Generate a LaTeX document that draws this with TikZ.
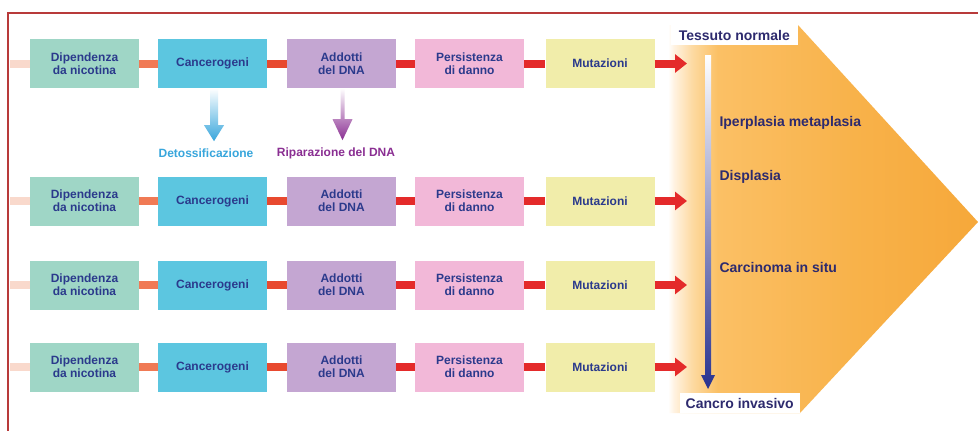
\documentclass[tikz,border=0pt]{standalone}
\usepackage{fontspec}
\setmainfont{Liberation Sans}
\usetikzlibrary{arrows.meta,calc}

% palette
\definecolor{framered}{HTML}{B83A3A}
\definecolor{boxtext}{HTML}{2B3A8C}
\definecolor{stagetext}{HTML}{2D2A6E}
\definecolor{mint}{HTML}{9FD6C6}
\definecolor{cyanbox}{HTML}{5CC6E0}
\definecolor{lavender}{HTML}{C4A6D2}
\definecolor{pinkbox}{HTML}{F2B8D8}
\definecolor{yellowbox}{HTML}{F1EDAA}
\definecolor{leadpale}{HTML}{F9D9CC}
\definecolor{linkorange}{HTML}{F07A55}
\definecolor{linkred}{HTML}{E8492F}
\definecolor{linkdeep}{HTML}{E42A2A}
\definecolor{detblue}{HTML}{38A6DC}
\definecolor{repurple}{HTML}{8A2E92}
\definecolor{navyarrow}{HTML}{28328F}
\definecolor{orpale}{HTML}{FFF2E0}
\definecolor{orsoft}{HTML}{FDD9A0}
\definecolor{orlight}{HTML}{FBC065}
\definecolor{ormid}{HTML}{F8B24A}
\definecolor{ordeep}{HTML}{F6A83A}

% fade of the tissue wedge, white on the left to orange on the right
\pgfdeclarehorizontalshading{tissuefade}{100bp}{%
  color(0bp)=(white); color(25bp)=(white); color(26bp)=(orpale);
  color(29bp)=(orsoft); color(33bp)=(orlight); color(55bp)=(ormid);
  color(75bp)=(ordeep); color(100bp)=(ordeep)}

\tikzset{
  stagebox/.style={minimum width=109pt, minimum height=49pt, inner sep=0pt,
    align=center, font=\fontsize{12}{13}\selectfont\bfseries, text=boxtext},
  link/.style={line width=8pt},
  stagelabel/.style={font=\fontsize{14}{16}\selectfont\bfseries, text=stagetext},
  sidelabel/.style={font=\fontsize{12}{14}\selectfont\bfseries},
}

\begin{document}
\begin{tikzpicture}[x=1pt,y=-1pt]
\useasboundingbox (0,0) rectangle (978,431);
\fill[white] (0,0) rectangle (978,431);

% frame
\draw[framered, line width=2.5pt] (8,431) -- (8,13) -- (978,13);

% tissue progression wedge
\shade[shading=tissuefade] (668,25) -- (798,25) -- (978,222) -- (800,413)
  -- (668,413) -- cycle;

% pathway rows
\foreach \r/\y in {1/63.5, 2/201, 3/285, 4/367}{
  \coordinate (lead\r) at (10,\y);
  \node[stagebox, fill=mint]      (a\r) at (84.5,\y)  {Dipendenza\\da nicotina};
  \node[stagebox, fill=cyanbox]   (b\r) at (212.5,\y) {Cancerogeni};
  \node[stagebox, fill=lavender]  (c\r) at (341.5,\y) {Addotti\\del DNA};
  \node[stagebox, fill=pinkbox]   (d\r) at (469.5,\y) {Persistenza\\di danno};
  \node[stagebox, fill=yellowbox] (e\r) at (600,\y)   {Mutazioni};
  \coordinate (tip\r) at (687,\y);
  \draw[link, leadpale]   (lead\r) -- (a\r.west);
  \draw[link, linkorange] (a\r.east) -- (b\r.west);
  \draw[link, linkred]    (b\r.east) -- (c\r.west);
  \draw[link, linkdeep]   (c\r.east) -- (d\r.west);
  \draw[link, linkdeep]   (d\r.east) -- (e\r.west);
  \draw[link, linkdeep, -{Triangle[width=18pt,length=12pt]}] (e\r.east) -- (tip\r);
}

% side outcomes of the first row
\node[sidelabel, text=detblue]  (detox) at (206,153) {Detossificazione};
\node[sidelabel, text=repurple] (repair) at (336,153) {Riparazione del DNA};
\shade[top color=white, bottom color=detblue]
  ($(b1.south)+(-2.5,0)$) -- ++(0,37) -- ++(-6,0) -- ++(10,16) -- ++(10,-16)
  -- ++(-6,0) -- ++(0,-37) -- cycle;
\shade[top color=white, bottom color=repurple]
  ($(c1.south)+(-1,0)$) -- ++(0,31) -- ++(-8,0) -- ++(10,21) -- ++(10,-21)
  -- ++(-8,0) -- ++(0,-31) -- cycle;

% tissue stages
\node[stagelabel, anchor=east, fill=white, inner xsep=8pt, minimum height=20pt]
  (normal) at (798,35) {Tessuto normale};
\node[stagelabel, anchor=east, fill=white, inner xsep=6pt, minimum height=20pt]
  (invasive) at (800,403) {Cancro invasivo};
\node[stagelabel, anchor=west] (hyper) at (716,123) {Iperplasia metaplasia};
\node[stagelabel, anchor=west] (dysp)  at (716,177) {Displasia};
\node[stagelabel, anchor=west] (cis)   at (716,267) {Carcinoma in situ};

% progression arrow
\coordinate (vtop) at (708,55);
\shade[top color=white, bottom color=navyarrow]
  ($(vtop)+(-3,0)$) -- ++(0,320) -- ++(-4,0) -- ++(7,14) -- ++(7,-14)
  -- ++(-4,0) -- ++(0,-320) -- cycle;
\end{tikzpicture}
\end{document}
